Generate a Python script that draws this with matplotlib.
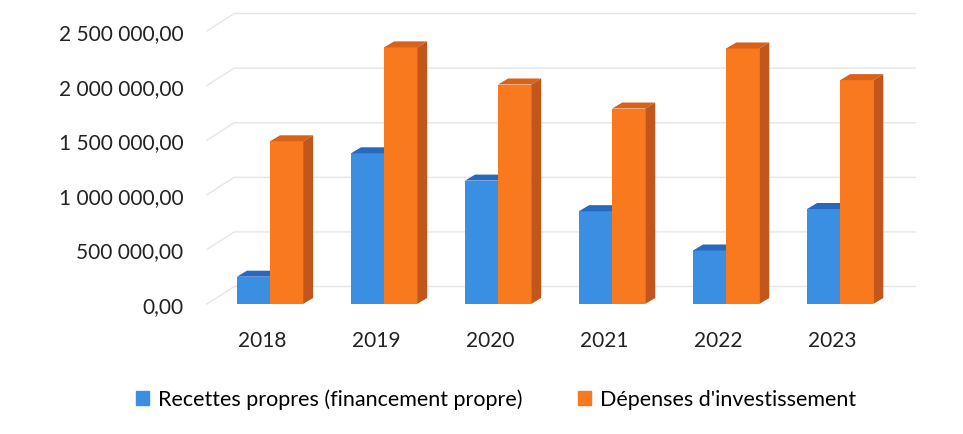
import numpy as np
import matplotlib
matplotlib.use("Agg")
import matplotlib.pyplot as plt
from matplotlib.patches import Polygon, Patch

years = ["2018", "2019", "2020", "2021", "2022", "2023"]
recettes = [250000, 1380000, 1130000, 850000, 490000, 870000]
depenses = [1490000, 2350000, 2010000, 1790000, 2340000, 2050000]
y_ticks = [0, 500000, 1000000, 1500000, 2000000, 2500000]
series_names = ["Recettes propres (financement propre)", "Dépenses d'investissement"]

BLUE = ("#3a8fe3", "#2868bd", "#2a6fc4")      # front, top, side
ORANGE = ("#f9791e", "#d8621a", "#c3561b")

plt.rcParams["font.family"] = ["Lato", "DejaVu Sans"]


def fmt_fr(v):
    s = f"{v:,.2f}"
    return s.replace(",", " ").replace(".", ",")


fig = plt.figure(figsize=(9.63, 4.35), dpi=100)
ax = fig.add_axes([200 / 963, 130 / 435, 720 / 963, 273 / 435])
ax.set_xlim(-0.614, 5.7)
ax.set_ylim(0, 2500000)

x = np.arange(len(years))
w = 0.29
dx = 0.088          # bar depth, x units
dy = 55000          # bar depth, value units
back_dx = 0.24      # back wall offset
back_dy = 160000

# back wall gridlines with the slanted side-wall segment on the left
x0, x1 = ax.get_xlim()
for v in y_ticks:
    ax.plot([x0 + 0.06, x0 + 0.06 + back_dx, 5.66], [v, v + back_dy, v + back_dy],
            color="#e6e6e6", lw=1.0, zorder=0, clip_on=False)


def bar3d(xc, vals, colors, z):
    front, top, side = colors
    bars = ax.bar(xc, vals, w, color=front, zorder=z, linewidth=0)
    for b in bars:
        l, r, h = b.get_x(), b.get_x() + b.get_width(), b.get_height()
        ax.add_patch(Polygon([(l, h), (l + dx, h + dy), (r + dx, h + dy), (r, h)],
                             closed=True, color=top, zorder=z, lw=0))
        ax.add_patch(Polygon([(r, 0), (r + dx, dy), (r + dx, h + dy), (r, h)],
                             closed=True, color=side, zorder=z, lw=0))


bar3d(x - w / 2, recettes, BLUE, 2)
bar3d(x + w / 2, depenses, ORANGE, 3)

for s in ax.spines.values():
    s.set_visible(False)

ax.set_xticks(x - 0.07)
ax.set_xticklabels(years, fontsize=15, color="#222222")
ax.set_yticks(y_ticks)
ax.set_yticklabels([fmt_fr(v) for v in y_ticks], fontsize=15, color="#222222")
ax.tick_params(axis="x", length=0, pad=19)
ax.tick_params(axis="y", length=0, pad=12)

handles = [Patch(color=BLUE[0]), Patch(color=ORANGE[0])]
fig.legend(handles, series_names, loc="center", bbox_to_anchor=(0.515, 0.08),
           ncol=2, frameon=False, fontsize=15.5, handlelength=0.6, handleheight=0.6,
           handletextpad=0.4, columnspacing=2.6)

fig.savefig("out.png", dpi=100)
